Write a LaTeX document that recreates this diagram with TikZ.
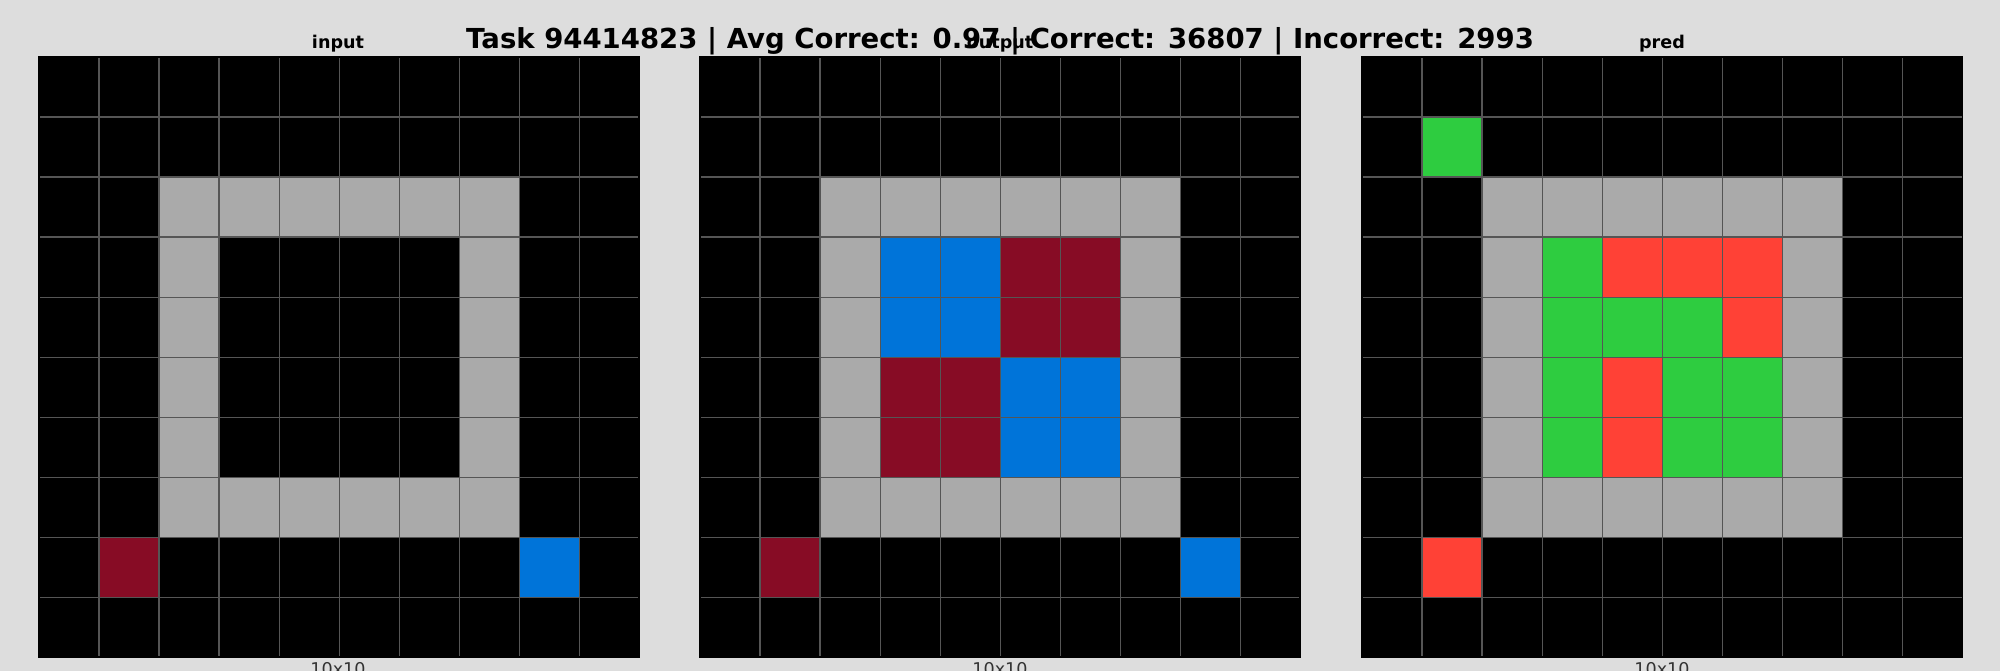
\documentclass[tikz,border=0pt]{standalone}
\usepackage{fontspec}
\setmainfont{DejaVu Sans}
\usetikzlibrary{positioning}
\definecolor{canvas}{HTML}{DDDDDD}
\definecolor{arcgray}{HTML}{AAAAAA}
\definecolor{arcblue}{HTML}{0074D9}
\definecolor{arcmaroon}{HTML}{870C25}
\definecolor{arcgreen}{HTML}{2ECC40}
\definecolor{arcred}{HTML}{FF4136}
\definecolor{gridline}{HTML}{555555}
\definecolor{labelgray}{HTML}{333333}

\begin{document}
\begin{tikzpicture}[
  x=0.01cm, y=-0.01cm,
  headline/.style={font=\bfseries\fontsize{7.83}{9}\selectfont, anchor=base, inner sep=0pt},
  paneltitle/.style={font=\bfseries\fontsize{5}{6}\selectfont, anchor=base, inner sep=0pt},
  sizelabel/.style={font=\fontsize{5}{6}\selectfont, text=labelgray, anchor=base, inner sep=0pt},
  gridrule/.style={draw=gridline, line width=0.35pt},
]
\useasboundingbox (0,0) rectangle (2000,671);
\fill[canvas] (0,0) rectangle (2000,671);

% input grid
\begin{scope}[shift={(39,57)}, x=0.6cm, y=-0.6cm]
  \fill[black] (0,0) rectangle (10,10);
  \fill[arcgray] (2,2) rectangle (8,8);
  \fill[black] (3,3) rectangle (7,7);
  \foreach \c/\r/\col in {1/8/arcmaroon, 8/8/arcblue}
    \fill[\col] (\c,\r) rectangle ++(1,1);
  \foreach \i in {1,...,9} {
    \draw[gridrule] (\i,0) -- (\i,10);
    \draw[gridrule] (0,\i) -- (10,\i);
  }
  \draw[black, line width=0.5pt] (0,0) rectangle (10,10);
\end{scope}

% output grid
\begin{scope}[shift={(700,57)}, x=0.6cm, y=-0.6cm]
  \fill[black] (0,0) rectangle (10,10);
  \fill[arcgray] (2,2) rectangle (8,8);
  \fill[arcblue] (3,3) rectangle (5,5);
  \fill[arcmaroon] (5,3) rectangle (7,5);
  \fill[arcmaroon] (3,5) rectangle (5,7);
  \fill[arcblue] (5,5) rectangle (7,7);
  \foreach \c/\r/\col in {1/8/arcmaroon, 8/8/arcblue}
    \fill[\col] (\c,\r) rectangle ++(1,1);
  \foreach \i in {1,...,9} {
    \draw[gridrule] (\i,0) -- (\i,10);
    \draw[gridrule] (0,\i) -- (10,\i);
  }
  \draw[black, line width=0.5pt] (0,0) rectangle (10,10);
\end{scope}

% pred grid
\begin{scope}[shift={(1362,57)}, x=0.6cm, y=-0.6cm]
  \fill[black] (0,0) rectangle (10,10);
  \fill[arcgray] (2,2) rectangle (8,8);
  \foreach \c/\r/\col in {1/1/arcgreen, 1/8/arcred,
      3/3/arcgreen, 4/3/arcred, 5/3/arcred, 6/3/arcred,
      3/4/arcgreen, 4/4/arcgreen, 5/4/arcgreen, 6/4/arcred,
      3/5/arcgreen, 4/5/arcred, 5/5/arcgreen, 6/5/arcgreen,
      3/6/arcgreen, 4/6/arcred, 5/6/arcgreen, 6/6/arcgreen}
    \fill[\col] (\c,\r) rectangle ++(1,1);
  \foreach \i in {1,...,9} {
    \draw[gridrule] (\i,0) -- (\i,10);
    \draw[gridrule] (0,\i) -- (10,\i);
  }
  \draw[black, line width=0.5pt] (0,0) rectangle (10,10);
\end{scope}

\node[paneltitle] (intitle) at (338,49) {input};
\node[paneltitle] (outtitle) at (1000,49) {output};
\node[paneltitle] (predtitle) at (1662,49) {pred};
\node[headline] (title) at (1000,49) {Task 94414823 | Avg Correct: 0.97 | Correct: 36807 | Incorrect: 2993};
\node[sizelabel] (insize) at (338,676) {10x10};
\node[sizelabel] (outsize) at (1000,676) {10x10};
\node[sizelabel] (predsize) at (1662,676) {10x10};
\end{tikzpicture}
\end{document}
